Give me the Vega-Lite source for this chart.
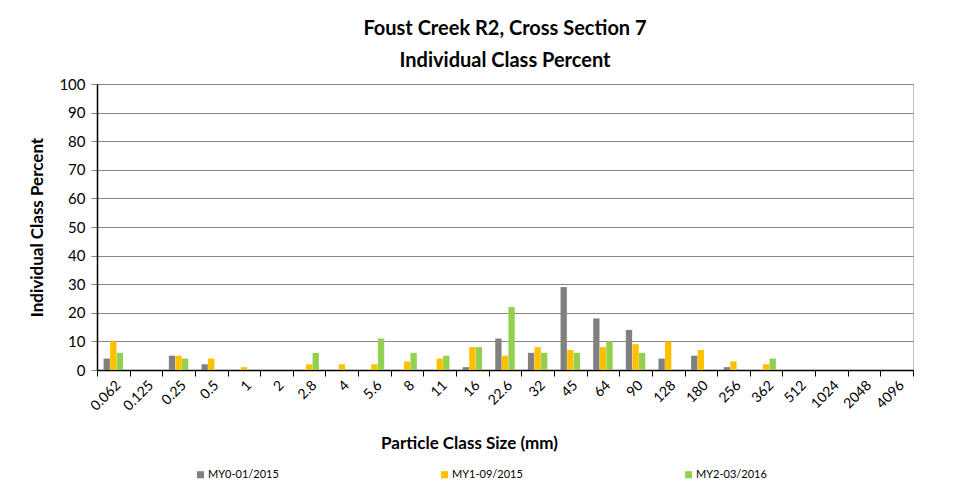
{
  "$schema": "https://vega.github.io/schema/vega-lite/v6.json",
  "autosize": {"type": "none"},
  "width": 816,
  "height": 286,
  "padding": {"left": 97, "top": 84, "right": 44, "bottom": 129},
  "background": "white",
  "title": {
    "text": ["Foust Creek R2, Cross Section 7", "Individual Class Percent"],
    "font": "Lato",
    "fontSize": 20,
    "fontWeight": "bold",
    "color": "#000000",
    "offset": 6,
    "lineHeight": 32,
    "anchor": "middle"
  },
  "data": {
    "values": [
      {"size": "0.062", "series": "MY0-01/2015", "pct": 4},
      {"size": "0.062", "series": "MY1-09/2015", "pct": 10},
      {"size": "0.062", "series": "MY2-03/2016", "pct": 6},
      {"size": "0.125", "series": "MY0-01/2015", "pct": 0},
      {"size": "0.125", "series": "MY1-09/2015", "pct": 0},
      {"size": "0.125", "series": "MY2-03/2016", "pct": 0},
      {"size": "0.25", "series": "MY0-01/2015", "pct": 5},
      {"size": "0.25", "series": "MY1-09/2015", "pct": 5},
      {"size": "0.25", "series": "MY2-03/2016", "pct": 4},
      {"size": "0.5", "series": "MY0-01/2015", "pct": 2},
      {"size": "0.5", "series": "MY1-09/2015", "pct": 4},
      {"size": "0.5", "series": "MY2-03/2016", "pct": 0},
      {"size": "1", "series": "MY0-01/2015", "pct": 0},
      {"size": "1", "series": "MY1-09/2015", "pct": 1},
      {"size": "1", "series": "MY2-03/2016", "pct": 0},
      {"size": "2", "series": "MY0-01/2015", "pct": 0},
      {"size": "2", "series": "MY1-09/2015", "pct": 0},
      {"size": "2", "series": "MY2-03/2016", "pct": 0},
      {"size": "2.8", "series": "MY0-01/2015", "pct": 0},
      {"size": "2.8", "series": "MY1-09/2015", "pct": 2},
      {"size": "2.8", "series": "MY2-03/2016", "pct": 6},
      {"size": "4", "series": "MY0-01/2015", "pct": 0},
      {"size": "4", "series": "MY1-09/2015", "pct": 2},
      {"size": "4", "series": "MY2-03/2016", "pct": 0},
      {"size": "5.6", "series": "MY0-01/2015", "pct": 0},
      {"size": "5.6", "series": "MY1-09/2015", "pct": 2},
      {"size": "5.6", "series": "MY2-03/2016", "pct": 11},
      {"size": "8", "series": "MY0-01/2015", "pct": 0},
      {"size": "8", "series": "MY1-09/2015", "pct": 3},
      {"size": "8", "series": "MY2-03/2016", "pct": 6},
      {"size": "11", "series": "MY0-01/2015", "pct": 0},
      {"size": "11", "series": "MY1-09/2015", "pct": 4},
      {"size": "11", "series": "MY2-03/2016", "pct": 5},
      {"size": "16", "series": "MY0-01/2015", "pct": 1},
      {"size": "16", "series": "MY1-09/2015", "pct": 8},
      {"size": "16", "series": "MY2-03/2016", "pct": 8},
      {"size": "22.6", "series": "MY0-01/2015", "pct": 11},
      {"size": "22.6", "series": "MY1-09/2015", "pct": 5},
      {"size": "22.6", "series": "MY2-03/2016", "pct": 22},
      {"size": "32", "series": "MY0-01/2015", "pct": 6},
      {"size": "32", "series": "MY1-09/2015", "pct": 8},
      {"size": "32", "series": "MY2-03/2016", "pct": 6},
      {"size": "45", "series": "MY0-01/2015", "pct": 29},
      {"size": "45", "series": "MY1-09/2015", "pct": 7},
      {"size": "45", "series": "MY2-03/2016", "pct": 6},
      {"size": "64", "series": "MY0-01/2015", "pct": 18},
      {"size": "64", "series": "MY1-09/2015", "pct": 8},
      {"size": "64", "series": "MY2-03/2016", "pct": 10},
      {"size": "90", "series": "MY0-01/2015", "pct": 14},
      {"size": "90", "series": "MY1-09/2015", "pct": 9},
      {"size": "90", "series": "MY2-03/2016", "pct": 6},
      {"size": "128", "series": "MY0-01/2015", "pct": 4},
      {"size": "128", "series": "MY1-09/2015", "pct": 10},
      {"size": "128", "series": "MY2-03/2016", "pct": 0},
      {"size": "180", "series": "MY0-01/2015", "pct": 5},
      {"size": "180", "series": "MY1-09/2015", "pct": 7},
      {"size": "180", "series": "MY2-03/2016", "pct": 0},
      {"size": "256", "series": "MY0-01/2015", "pct": 1},
      {"size": "256", "series": "MY1-09/2015", "pct": 3},
      {"size": "256", "series": "MY2-03/2016", "pct": 0},
      {"size": "362", "series": "MY0-01/2015", "pct": 0},
      {"size": "362", "series": "MY1-09/2015", "pct": 2},
      {"size": "362", "series": "MY2-03/2016", "pct": 4},
      {"size": "512", "series": "MY0-01/2015", "pct": 0},
      {"size": "512", "series": "MY1-09/2015", "pct": 0},
      {"size": "512", "series": "MY2-03/2016", "pct": 0},
      {"size": "1024", "series": "MY0-01/2015", "pct": 0},
      {"size": "1024", "series": "MY1-09/2015", "pct": 0},
      {"size": "1024", "series": "MY2-03/2016", "pct": 0},
      {"size": "2048", "series": "MY0-01/2015", "pct": 0},
      {"size": "2048", "series": "MY1-09/2015", "pct": 0},
      {"size": "2048", "series": "MY2-03/2016", "pct": 0},
      {"size": "4096", "series": "MY0-01/2015", "pct": 0},
      {"size": "4096", "series": "MY1-09/2015", "pct": 0},
      {"size": "4096", "series": "MY2-03/2016", "pct": 0}
    ]
  },
  "mark": {"type": "bar"},
  "encoding": {
    "x": {
      "field": "size",
      "type": "nominal",
      "sort": null,
      "scale": {"paddingInner": 0, "paddingOuter": 0},
      "axis": {
        "title": "Particle Class Size (mm)",
        "titleFont": "Lato",
        "titleFontSize": 17,
        "titleFontWeight": "bold",
        "titleColor": "#000000",
        "titlePadding": 22,
        "titleX": 372,
        "labelAngle": -45,
        "labelFont": "Lato",
        "labelFontSize": 14,
        "labelColor": "#000000",
        "labelPadding": 2,
        "tickBand": "extent",
        "tickSize": 6,
        "tickColor": "#000000",
        "domainColor": "#000000",
        "domainWidth": 1.5,
        "grid": false
      }
    },
    "xOffset": {
      "field": "series",
      "type": "nominal",
      "scale": {"paddingInner": 0.04, "paddingOuter": 1.15}
    },
    "y": {
      "field": "pct",
      "type": "quantitative",
      "scale": {"domain": [0, 100]},
      "axis": {
        "title": "Individual Class Percent",
        "titleFont": "Lato",
        "titleFontSize": 17,
        "titleFontWeight": "bold",
        "titleColor": "#000000",
        "titlePadding": 12,
        "values": [0, 10, 20, 30, 40, 50, 60, 70, 80, 90, 100],
        "labelFont": "Lato",
        "labelFontSize": 15,
        "labelColor": "#000000",
        "labelPadding": 6,
        "tickSize": 6,
        "tickColor": "#868686",
        "domainColor": "#000000",
        "domainWidth": 1.5,
        "gridColor": "#868686",
        "gridWidth": 1
      }
    },
    "color": {
      "field": "series",
      "type": "nominal",
      "scale": {
        "domain": ["MY0-01/2015", "MY1-09/2015", "MY2-03/2016"],
        "range": ["#808080", "#FFC000", "#92D050"]
      },
      "legend": {
        "title": null,
        "orient": "none",
        "legendX": 98,
        "legendY": 385,
        "direction": "horizontal",
        "columns": 3,
        "columnPadding": 160,
        "symbolType": "square",
        "symbolSize": 50,
        "symbolStrokeWidth": 0,
        "labelFont": "Lato",
        "labelFontSize": 11,
        "labelColor": "#000000",
        "labelOffset": 2
      }
    }
  },
  "config": {
    "view": {"stroke": "#bfbfbf"}
  }
}
